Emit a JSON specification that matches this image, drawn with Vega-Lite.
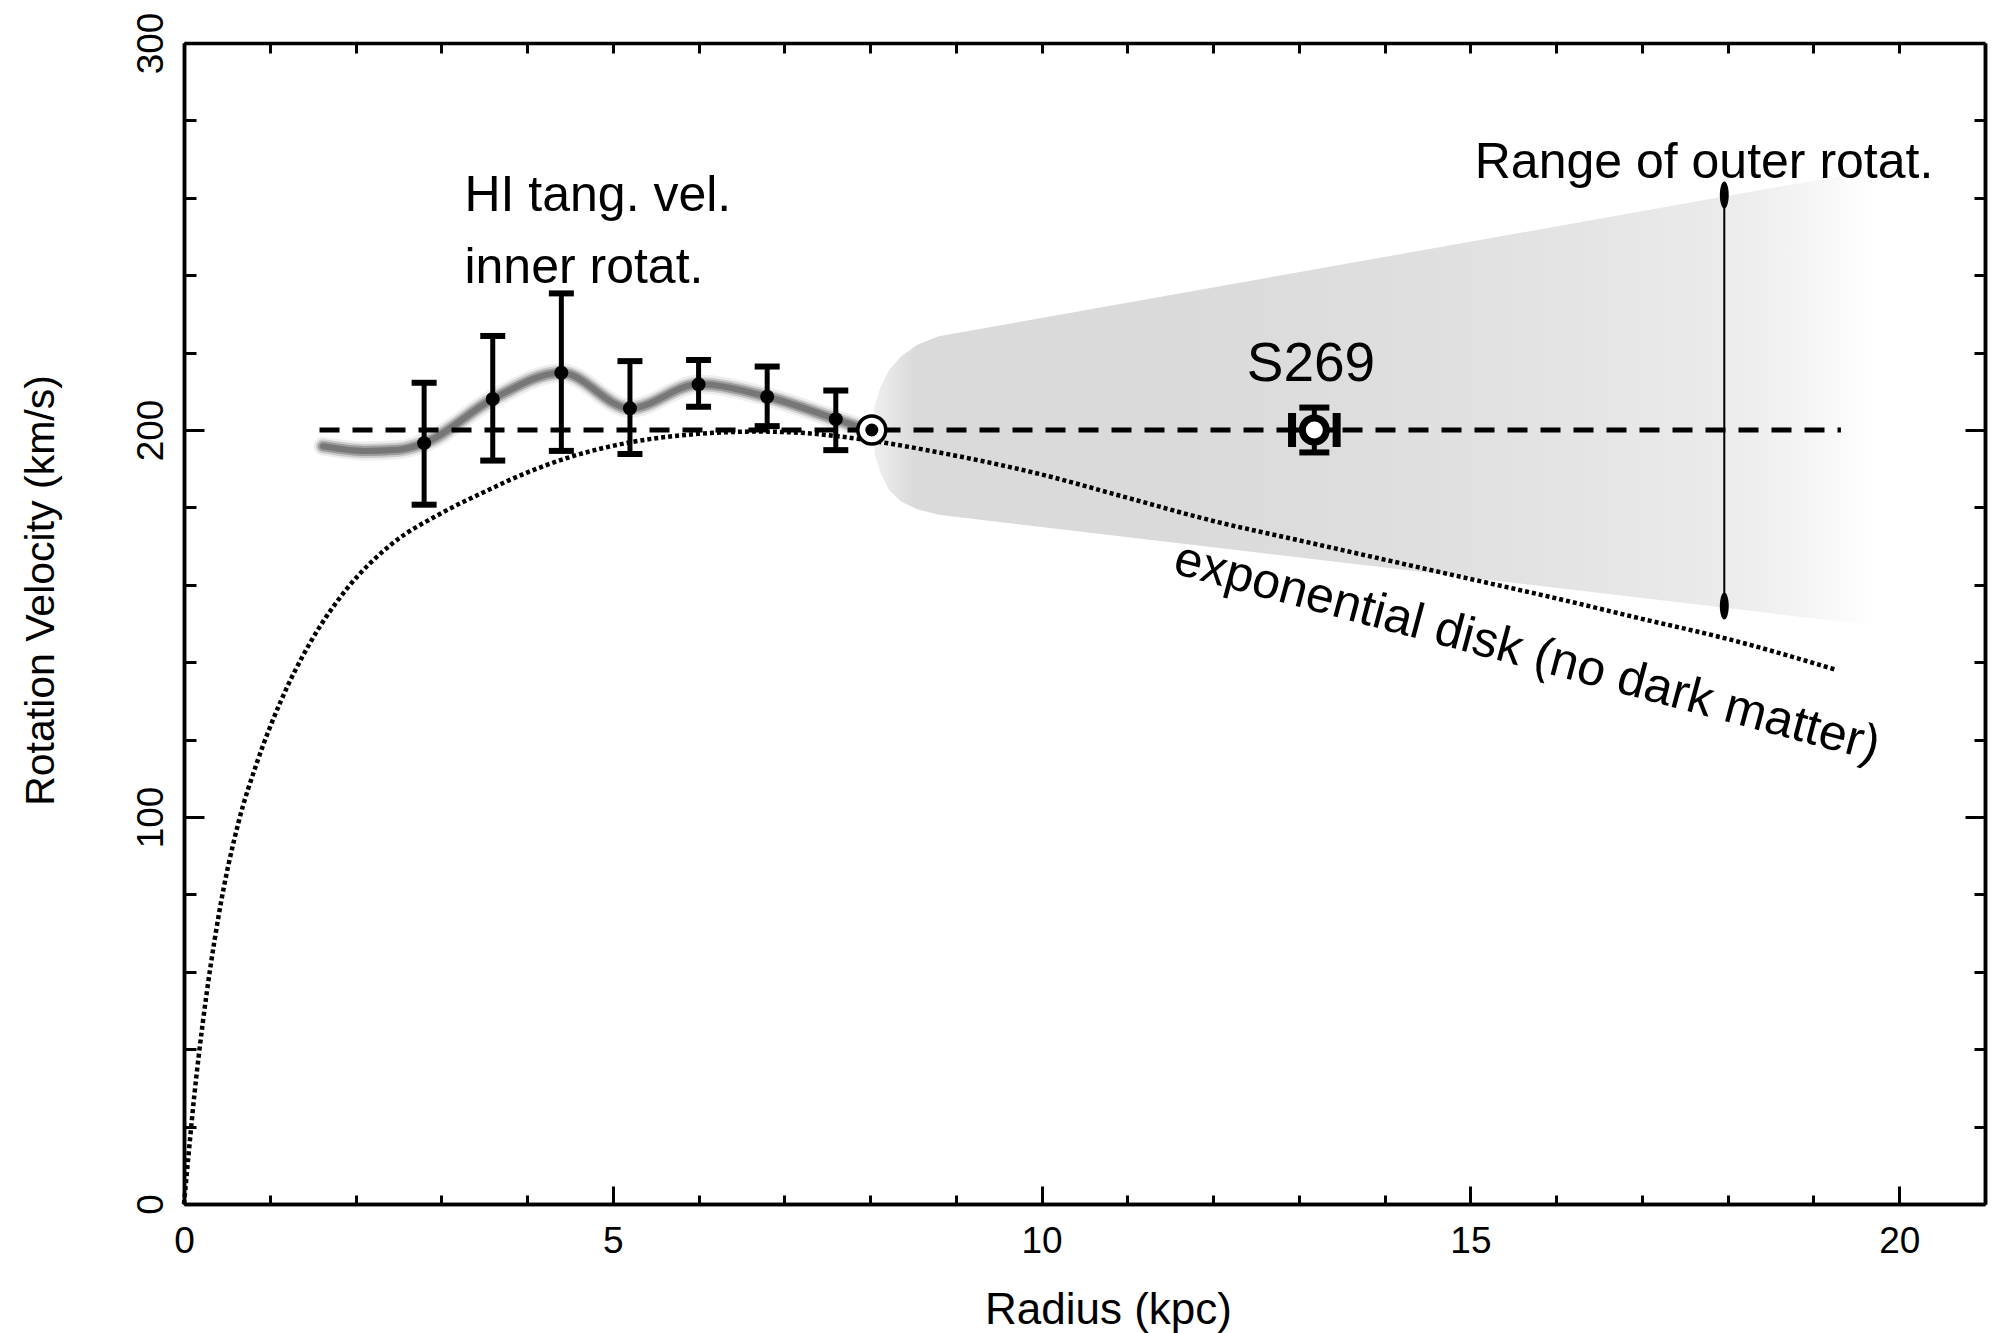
{
  "$schema": "https://vega.github.io/schema/vega-lite/v6.json",
  "width": 1801,
  "height": 1161,
  "autosize": {"type": "none"},
  "padding": {"left": 184, "top": 43, "right": 12, "bottom": 129},
  "background": "white",
  "config": {
    "view": {"stroke": null},
    "font": "Liberation Sans",
    "axis": {
      "grid": false,
      "domainColor": "black",
      "domainWidth": 3.5,
      "tickColor": "black",
      "tickWidth": 3,
      "labelColor": "black",
      "labelFont": "Liberation Sans",
      "labelFontSize": 37,
      "titleFont": "Liberation Sans",
      "titleFontSize": 41,
      "titleColor": "black",
      "titleFontWeight": "normal",
      "labelFlush": false,
      "labelOverlap": false
    }
  },
  "datasets": {
    "area": [
      {"x": 8.05, "y": 206, "y2": 194},
      {"x": 8.12, "y": 211, "y2": 189},
      {"x": 8.22, "y": 215.5, "y2": 184.5},
      {"x": 8.36, "y": 219, "y2": 181.5},
      {"x": 8.55, "y": 222, "y2": 179.5},
      {"x": 8.8, "y": 224.2, "y2": 178.1},
      {"x": 19.7, "y": 267.2, "y2": 149.5}
    ],
    "band": [
      {"x": 1.62, "y": 195.8},
      {"x": 2.1, "y": 194.6},
      {"x": 2.5, "y": 194.9},
      {"x": 2.8, "y": 196.6},
      {"x": 3.6, "y": 208.0},
      {"x": 4.4, "y": 214.8},
      {"x": 5.2, "y": 205.6},
      {"x": 6.0, "y": 211.8},
      {"x": 6.8, "y": 208.6},
      {"x": 7.6, "y": 202.8},
      {"x": 7.95, "y": 200.2}
    ],
    "flat": [
      {"x": 1.58, "y": 200},
      {"x": 19.32, "y": 200}
    ],
    "disk": [
      {"x": 0, "y": 0},
      {"x": 0.05, "y": 12},
      {"x": 0.12, "y": 28},
      {"x": 0.22, "y": 47},
      {"x": 0.4, "y": 74},
      {"x": 0.64, "y": 99},
      {"x": 0.85, "y": 114},
      {"x": 1.12, "y": 129.5},
      {"x": 1.47, "y": 145},
      {"x": 1.9, "y": 159},
      {"x": 2.42, "y": 170.5},
      {"x": 3.0, "y": 178.5},
      {"x": 3.5, "y": 184},
      {"x": 4.0, "y": 189},
      {"x": 4.5, "y": 193},
      {"x": 5.2, "y": 196.8},
      {"x": 6.0, "y": 199},
      {"x": 6.7, "y": 199.6},
      {"x": 7.3, "y": 199.1},
      {"x": 7.9, "y": 197.6},
      {"x": 8.85, "y": 194},
      {"x": 10, "y": 188.5},
      {"x": 11, "y": 182.5},
      {"x": 12, "y": 176.5},
      {"x": 13, "y": 171.5},
      {"x": 14, "y": 166.5},
      {"x": 15, "y": 161.5},
      {"x": 16, "y": 156.5},
      {"x": 17, "y": 151.2},
      {"x": 18, "y": 146},
      {"x": 19.27, "y": 138}
    ],
    "hi": [
      {"x": 2.8, "y": 196.6, "lo": 180.7, "hi": 212.2},
      {"x": 3.6, "y": 208.0, "lo": 192.1, "hi": 224.3},
      {"x": 4.4, "y": 214.8, "lo": 194.6, "hi": 235.3},
      {"x": 5.2, "y": 205.6, "lo": 193.8, "hi": 217.8},
      {"x": 6.0, "y": 211.8, "lo": 206.0, "hi": 218.1},
      {"x": 6.8, "y": 208.6, "lo": 201.0, "hi": 216.4},
      {"x": 7.6, "y": 202.8, "lo": 194.8, "hi": 210.2}
    ],
    "sun": [{"x": 8.02, "y": 200}],
    "s269": [{"x": 13.18, "y": 200, "lo": 194.2, "hi": 205.8, "xlo": 12.92, "xhi": 13.44}],
    "range": [{"x": 17.96, "lo": 154.5, "hi": 260.7}],
    "notes": [
      {"x": 3.27, "y": 256.5, "label": "HI tang. vel."},
      {"x": 3.27, "y": 238.1, "label": "inner rotat."},
      {"x": 15.05, "y": 265.0, "label": "Range of outer rotat."}
    ],
    "src": [{"x": 13.14, "y": 212.7, "label": "S269"}],
    "diskLabel": [{"x": 15.66, "y": 142.5, "label": "exponential disk (no dark matter)"}]
  },
  "resolve": {"axis": {"x": "independent", "y": "independent"}},
  "layer": [
    {
      "data": {"name": "area"},
      "mark": {
        "type": "area",
        "interpolate": "linear",
        "color": {
          "gradient": "linear",
          "x1": 0, "y1": 0, "x2": 1, "y2": 0,
          "stops": [
            {"offset": 0, "color": "#efefef"},
            {"offset": 0.04, "color": "#dadada"},
            {"offset": 0.3, "color": "#dadada"},
            {"offset": 0.55, "color": "#dfdfdf"},
            {"offset": 0.72, "color": "#e5e5e5"},
            {"offset": 0.83, "color": "#eaeaea"},
            {"offset": 0.89, "color": "#efefef"},
            {"offset": 0.95, "color": "#f7f7f7"},
            {"offset": 1, "color": "#ffffff"}
          ]
        }
      },
      "encoding": {
        "x": {
          "field": "x", "type": "quantitative",
          "scale": {"domain": [0, 21], "nice": false},
          "axis": {
            "orient": "bottom",
            "values": [0, 5, 10, 15, 20],
            "tickSize": -18,
            "labelPadding": 66,
            "labelBaseline": "alphabetic",
            "labelAlign": "center",
            "title": "Radius (kpc)",
            "titleFontSize": 44,
            "titleX": 924,
            "titleY": 119,
            "titleAlign": "center",
            "titleBaseline": "alphabetic"
          }
        },
        "y": {
          "field": "y", "type": "quantitative",
          "scale": {"domain": [0, 300], "nice": false},
          "axis": {
            "orient": "left",
            "values": [0, 100, 200, 300],
            "tickSize": -20,
            "labelAngle": 270,
            "labelAlign": "center",
            "labelBaseline": "alphabetic",
            "labelPadding": 42,
            "title": "Rotation Velocity (km/s)",
            "titleX": -131,
            "titleY": 547,
            "titleAngle": 270,
            "titleAlign": "center",
            "titleBaseline": "alphabetic"
          }
        },
        "y2": {"field": "y2"}
      }
    },
    {
      "data": {"name": "band"},
      "mark": {"type": "line", "interpolate": "monotone", "color": "#e2e2e2", "strokeWidth": 19, "opacity": 0.6, "strokeCap": "round"},
      "encoding": {
        "x": {
          "field": "x", "type": "quantitative",
          "scale": {"domain": [0, 21], "nice": false},
          "axis": {"orient": "bottom", "values": [1, 2, 3, 4, 6, 7, 8, 9, 11, 12, 13, 14, 16, 17, 18, 19, 21], "tickSize": -9, "labels": false, "title": null}
        },
        "y": {
          "field": "y", "type": "quantitative",
          "scale": {"domain": [0, 300], "nice": false},
          "axis": {"orient": "left", "values": [20, 40, 60, 80, 120, 140, 160, 180, 220, 240, 260, 280], "tickSize": -12, "labels": false, "title": null}
        }
      }
    },
    {
      "data": {"name": "band"},
      "mark": {"type": "line", "interpolate": "monotone", "color": "#c2c2c2", "strokeWidth": 14, "opacity": 0.8, "strokeCap": "round"},
      "encoding": {
        "x": {
          "field": "x", "type": "quantitative",
          "scale": {"domain": [0, 21], "nice": false},
          "axis": {"orient": "top", "values": [1, 2, 3, 4, 5, 6, 7, 8, 9, 10, 11, 12, 13, 14, 15, 16, 17, 18, 19, 20], "tickSize": -10, "labels": false, "title": null}
        },
        "y": {
          "field": "y", "type": "quantitative",
          "scale": {"domain": [0, 300], "nice": false},
          "axis": {"orient": "right", "values": [100, 200], "tickSize": -20, "labels": false, "title": null}
        }
      }
    },
    {
      "data": {"name": "band"},
      "mark": {"type": "line", "interpolate": "monotone", "color": "#9c9c9c", "strokeWidth": 10, "strokeCap": "round"},
      "encoding": {
        "x": {"field": "x", "type": "quantitative", "scale": {"domain": [0, 21], "nice": false}, "axis": null},
        "y": {
          "field": "y", "type": "quantitative",
          "scale": {"domain": [0, 300], "nice": false},
          "axis": {"orient": "right", "values": [20, 40, 60, 80, 120, 140, 160, 180, 220, 240, 260, 280], "tickSize": -11, "labels": false, "title": null}
        }
      }
    },
    {
      "data": {"name": "band"},
      "mark": {"type": "line", "interpolate": "monotone", "color": "#777777", "strokeWidth": 6, "strokeCap": "round"},
      "encoding": {
        "x": {"field": "x", "type": "quantitative", "scale": {"domain": [0, 21], "nice": false}, "axis": null},
        "y": {"field": "y", "type": "quantitative", "scale": {"domain": [0, 300], "nice": false}, "axis": null}
      }
    },
    {
      "data": {"name": "flat"},
      "mark": {"type": "line", "color": "black", "strokeWidth": 5, "strokeDash": [20, 13]},
      "encoding": {
        "x": {"field": "x", "type": "quantitative", "scale": {"domain": [0, 21], "nice": false}, "axis": null},
        "y": {"field": "y", "type": "quantitative", "scale": {"domain": [0, 300], "nice": false}, "axis": null}
      }
    },
    {
      "data": {"name": "disk"},
      "mark": {"type": "line", "interpolate": "monotone", "color": "black", "strokeWidth": 4.5, "strokeDash": [4, 3]},
      "encoding": {
        "x": {"field": "x", "type": "quantitative", "scale": {"domain": [0, 21], "nice": false}, "axis": null},
        "y": {"field": "y", "type": "quantitative", "scale": {"domain": [0, 300], "nice": false}, "axis": null}
      }
    },
    {
      "data": {"name": "range"},
      "mark": {"type": "rule", "color": "black", "strokeWidth": 2},
      "encoding": {
        "x": {"field": "x", "type": "quantitative", "scale": {"domain": [0, 21], "nice": false}, "axis": null},
        "y": {"field": "lo", "type": "quantitative", "scale": {"domain": [0, 300], "nice": false}, "axis": null},
        "y2": {"field": "hi"}
      }
    },
    {
      "data": {"name": "range"},
      "mark": {"type": "point", "filled": true, "color": "black", "opacity": 1, "size": 729, "shape": "M0,-1A0.33,1,0,1,1,0,1A0.33,1,0,1,1,0,-1Z"},
      "encoding": {
        "x": {"field": "x", "type": "quantitative", "scale": {"domain": [0, 21], "nice": false}, "axis": null},
        "y": {"field": "lo", "type": "quantitative", "scale": {"domain": [0, 300], "nice": false}, "axis": null}
      }
    },
    {
      "data": {"name": "range"},
      "mark": {"type": "point", "filled": true, "color": "black", "opacity": 1, "size": 729, "shape": "M0,-1A0.33,1,0,1,1,0,1A0.33,1,0,1,1,0,-1Z"},
      "encoding": {
        "x": {"field": "x", "type": "quantitative", "scale": {"domain": [0, 21], "nice": false}, "axis": null},
        "y": {"field": "hi", "type": "quantitative", "scale": {"domain": [0, 300], "nice": false}, "axis": null}
      }
    },
    {
      "data": {"name": "hi"},
      "mark": {"type": "rule", "color": "black", "strokeWidth": 5},
      "encoding": {
        "x": {"field": "x", "type": "quantitative", "scale": {"domain": [0, 21], "nice": false}, "axis": null},
        "y": {"field": "lo", "type": "quantitative", "scale": {"domain": [0, 300], "nice": false}, "axis": null},
        "y2": {"field": "hi"}
      }
    },
    {
      "data": {"name": "hi"},
      "mark": {"type": "tick", "orient": "horizontal", "color": "black", "opacity": 1, "size": 25, "thickness": 6},
      "encoding": {
        "x": {"field": "x", "type": "quantitative", "scale": {"domain": [0, 21], "nice": false}, "axis": null},
        "y": {"field": "lo", "type": "quantitative", "scale": {"domain": [0, 300], "nice": false}, "axis": null}
      }
    },
    {
      "data": {"name": "hi"},
      "mark": {"type": "tick", "orient": "horizontal", "color": "black", "opacity": 1, "size": 25, "thickness": 6},
      "encoding": {
        "x": {"field": "x", "type": "quantitative", "scale": {"domain": [0, 21], "nice": false}, "axis": null},
        "y": {"field": "hi", "type": "quantitative", "scale": {"domain": [0, 300], "nice": false}, "axis": null}
      }
    },
    {
      "data": {"name": "hi"},
      "mark": {"type": "circle", "color": "black", "opacity": 1, "size": 196},
      "encoding": {
        "x": {"field": "x", "type": "quantitative", "scale": {"domain": [0, 21], "nice": false}, "axis": null},
        "y": {"field": "y", "type": "quantitative", "scale": {"domain": [0, 300], "nice": false}, "axis": null}
      }
    },
    {
      "data": {"name": "sun"},
      "mark": {"type": "point", "shape": "circle", "filled": false, "fill": "white", "fillOpacity": 1, "stroke": "black", "strokeWidth": 3.5, "opacity": 1, "size": 784},
      "encoding": {
        "x": {"field": "x", "type": "quantitative", "scale": {"domain": [0, 21], "nice": false}, "axis": null},
        "y": {"field": "y", "type": "quantitative", "scale": {"domain": [0, 300], "nice": false}, "axis": null}
      }
    },
    {
      "data": {"name": "sun"},
      "mark": {"type": "circle", "color": "black", "opacity": 1, "size": 169},
      "encoding": {
        "x": {"field": "x", "type": "quantitative", "scale": {"domain": [0, 21], "nice": false}, "axis": null},
        "y": {"field": "y", "type": "quantitative", "scale": {"domain": [0, 300], "nice": false}, "axis": null}
      }
    },
    {
      "data": {"name": "s269"},
      "mark": {"type": "rule", "color": "black", "strokeWidth": 5},
      "encoding": {
        "x": {"field": "x", "type": "quantitative", "scale": {"domain": [0, 21], "nice": false}, "axis": null},
        "y": {"field": "lo", "type": "quantitative", "scale": {"domain": [0, 300], "nice": false}, "axis": null},
        "y2": {"field": "hi"}
      }
    },
    {
      "data": {"name": "s269"},
      "mark": {"type": "rule", "color": "black", "strokeWidth": 5},
      "encoding": {
        "x": {"field": "xlo", "type": "quantitative", "scale": {"domain": [0, 21], "nice": false}, "axis": null},
        "x2": {"field": "xhi"},
        "y": {"field": "y", "type": "quantitative", "scale": {"domain": [0, 300], "nice": false}, "axis": null}
      }
    },
    {
      "data": {"name": "s269"},
      "mark": {"type": "tick", "orient": "horizontal", "color": "black", "opacity": 1, "size": 30, "thickness": 6},
      "encoding": {
        "x": {"field": "x", "type": "quantitative", "scale": {"domain": [0, 21], "nice": false}, "axis": null},
        "y": {"field": "lo", "type": "quantitative", "scale": {"domain": [0, 300], "nice": false}, "axis": null}
      }
    },
    {
      "data": {"name": "s269"},
      "mark": {"type": "tick", "orient": "horizontal", "color": "black", "opacity": 1, "size": 30, "thickness": 6},
      "encoding": {
        "x": {"field": "x", "type": "quantitative", "scale": {"domain": [0, 21], "nice": false}, "axis": null},
        "y": {"field": "hi", "type": "quantitative", "scale": {"domain": [0, 300], "nice": false}, "axis": null}
      }
    },
    {
      "data": {"name": "s269"},
      "mark": {"type": "tick", "orient": "vertical", "color": "black", "opacity": 1, "size": 34, "thickness": 8},
      "encoding": {
        "x": {"field": "xlo", "type": "quantitative", "scale": {"domain": [0, 21], "nice": false}, "axis": null},
        "y": {"field": "y", "type": "quantitative", "scale": {"domain": [0, 300], "nice": false}, "axis": null}
      }
    },
    {
      "data": {"name": "s269"},
      "mark": {"type": "tick", "orient": "vertical", "color": "black", "opacity": 1, "size": 34, "thickness": 8},
      "encoding": {
        "x": {"field": "xhi", "type": "quantitative", "scale": {"domain": [0, 21], "nice": false}, "axis": null},
        "y": {"field": "y", "type": "quantitative", "scale": {"domain": [0, 300], "nice": false}, "axis": null}
      }
    },
    {
      "data": {"name": "s269"},
      "mark": {"type": "point", "shape": "circle", "filled": false, "fill": "white", "fillOpacity": 1, "stroke": "black", "strokeWidth": 7, "opacity": 1, "size": 576},
      "encoding": {
        "x": {"field": "x", "type": "quantitative", "scale": {"domain": [0, 21], "nice": false}, "axis": null},
        "y": {"field": "y", "type": "quantitative", "scale": {"domain": [0, 300], "nice": false}, "axis": null}
      }
    },
    {
      "data": {"name": "notes"},
      "mark": {"type": "text", "align": "left", "baseline": "alphabetic", "font": "Liberation Sans", "fontSize": 50, "color": "black"},
      "encoding": {
        "x": {"field": "x", "type": "quantitative", "scale": {"domain": [0, 21], "nice": false}, "axis": null},
        "y": {"field": "y", "type": "quantitative", "scale": {"domain": [0, 300], "nice": false}, "axis": null},
        "text": {"field": "label"}
      }
    },
    {
      "data": {"name": "src"},
      "mark": {"type": "text", "align": "center", "baseline": "alphabetic", "font": "Liberation Sans", "fontSize": 55, "color": "black"},
      "encoding": {
        "x": {"field": "x", "type": "quantitative", "scale": {"domain": [0, 21], "nice": false}, "axis": null},
        "y": {"field": "y", "type": "quantitative", "scale": {"domain": [0, 300], "nice": false}, "axis": null},
        "text": {"field": "label"}
      }
    },
    {
      "data": {"name": "diskLabel"},
      "mark": {"type": "text", "align": "center", "baseline": "middle", "angle": 15, "font": "Liberation Sans", "fontSize": 50, "color": "black"},
      "encoding": {
        "x": {"field": "x", "type": "quantitative", "scale": {"domain": [0, 21], "nice": false}, "axis": null},
        "y": {"field": "y", "type": "quantitative", "scale": {"domain": [0, 300], "nice": false}, "axis": null},
        "text": {"field": "label"}
      }
    }
  ]
}
